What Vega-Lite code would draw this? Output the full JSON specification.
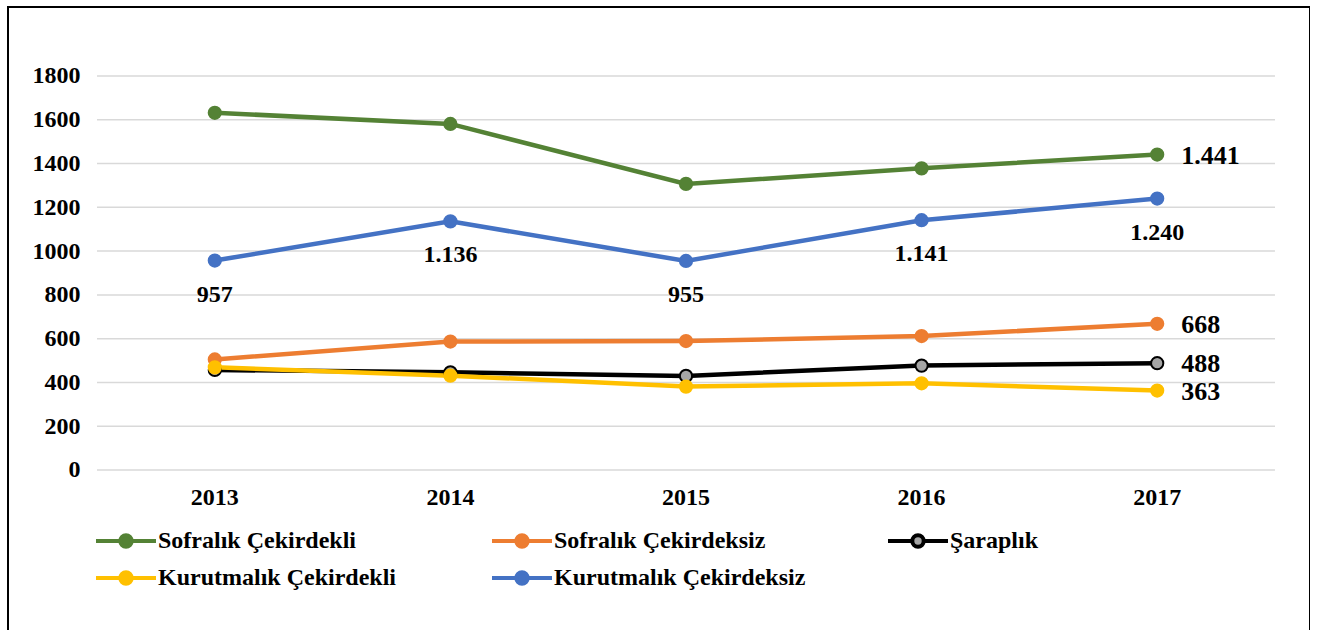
{
  "$schema": "https://vega.github.io/schema/vega-lite/v6.json",
  "autosize": "none",
  "padding": {"left": 8, "top": 7, "right": 0, "bottom": 0},
  "width": 1302,
  "height": 628,
  "config": {
    "view": {"stroke": "#000000", "strokeWidth": 2},
    "font": "Liberation Serif",
    "locale": {"number": {"decimal": ",", "thousands": ".", "grouping": [3], "currency": ["", "₺"]}}
  },
  "datasets": {
    "grid": [{"g": 0}, {"g": 200}, {"g": 400}, {"g": 600}, {"g": 800}, {"g": 1000}, {"g": 1200}, {"g": 1400}, {"g": 1600}, {"g": 1800}],
    "series": [
      {"series": "Sofralık Çekirdekli", "year": "2013", "v": 1632},
      {"series": "Sofralık Çekirdekli", "year": "2014", "v": 1581},
      {"series": "Sofralık Çekirdekli", "year": "2015", "v": 1307},
      {"series": "Sofralık Çekirdekli", "year": "2016", "v": 1378},
      {"series": "Sofralık Çekirdekli", "year": "2017", "v": 1441},
      {"series": "Sofralık Çekirdeksiz", "year": "2013", "v": 505},
      {"series": "Sofralık Çekirdeksiz", "year": "2014", "v": 587},
      {"series": "Sofralık Çekirdeksiz", "year": "2015", "v": 589},
      {"series": "Sofralık Çekirdeksiz", "year": "2016", "v": 612},
      {"series": "Sofralık Çekirdeksiz", "year": "2017", "v": 668},
      {"series": "Şaraplık", "year": "2013", "v": 457},
      {"series": "Şaraplık", "year": "2014", "v": 446},
      {"series": "Şaraplık", "year": "2015", "v": 430},
      {"series": "Şaraplık", "year": "2016", "v": 477},
      {"series": "Şaraplık", "year": "2017", "v": 488},
      {"series": "Kurutmalık Çekirdekli", "year": "2013", "v": 469},
      {"series": "Kurutmalık Çekirdekli", "year": "2014", "v": 431},
      {"series": "Kurutmalık Çekirdekli", "year": "2015", "v": 381},
      {"series": "Kurutmalık Çekirdekli", "year": "2016", "v": 396},
      {"series": "Kurutmalık Çekirdekli", "year": "2017", "v": 363},
      {"series": "Kurutmalık Çekirdeksiz", "year": "2013", "v": 957},
      {"series": "Kurutmalık Çekirdeksiz", "year": "2014", "v": 1136},
      {"series": "Kurutmalık Çekirdeksiz", "year": "2015", "v": 955},
      {"series": "Kurutmalık Çekirdeksiz", "year": "2016", "v": 1141},
      {"series": "Kurutmalık Çekirdeksiz", "year": "2017", "v": 1240}
    ]
  },
  "encoding": {
    "x": {
      "field": "year", "type": "nominal",
      "scale": {"type": "band", "domain": ["2013", "2014", "2015", "2016", "2017"], "paddingInner": 0, "paddingOuter": 0.2632, "align": 0.7177},
      "axis": {"title": null, "orient": "bottom", "offset": -165, "domain": false, "ticks": false, "labelPadding": 15, "labelFont": "Liberation Serif", "labelFontWeight": "bold", "labelFontSize": 24, "labelColor": "#000000", "labelAngle": 0}
    },
    "y": {
      "field": "v", "type": "quantitative",
      "scale": {"domain": [-753.8, 2115.2], "nice": false, "zero": false},
      "axis": {"title": null, "values": [0, 200, 400, 600, 800, 1000, 1200, 1400, 1600, 1800], "format": "d", "offset": -89, "grid": false, "domain": false, "ticks": false, "labelPadding": 17, "labelFont": "Liberation Serif", "labelFontWeight": "bold", "labelFontSize": 24, "labelColor": "#000000"}
    }
  },
  "layer": [
    {
      "data": {"name": "grid"},
      "mark": {"type": "rule", "color": "#d9d9d9", "strokeWidth": 1.5},
      "encoding": {
        "y": {"field": "g", "type": "quantitative"},
        "x": {"datum": "2013", "bandPosition": 0},
        "x2": {"datum": "2017", "bandPosition": 1}
      }
    },
    {
      "data": {"name": "series"},
      "mark": {"type": "line", "strokeWidth": 4.5},
      "encoding": {
        "stroke": {
          "field": "series", "type": "nominal",
          "scale": {"domain": ["Sofralık Çekirdekli", "Sofralık Çekirdeksiz", "Şaraplık", "Kurutmalık Çekirdekli", "Kurutmalık Çekirdeksiz"], "range": ["#548235", "#ED7D31", "#000000", "#FFC000", "#4472C4"]},
          "legend": {
            "title": null, "orient": "none", "legendX": 86, "legendY": 521, "direction": "horizontal", "columns": 3, "gridAlign": "all", "columnPadding": 80, "rowPadding": 11, "clipHeight": 26,
            "symbolType": "M-1,0L-0.19,0M0.19,0L1,0M-0.19,0A0.19,0.19,0,1,0,0.19,0A0.19,0.19,0,1,0,-0.19,0Z",
            "symbolSize": 3600, "symbolStrokeWidth": 4, "labelFont": "Liberation Serif", "labelFontWeight": "bold", "labelFontSize": 24, "labelColor": "#000000", "labelOffset": 0, "labelLimit": 400
          }
        },
        "detail": {"field": "series"}
      }
    },
    {
      "data": {"name": "series"},
      "mark": {"type": "point", "filled": true, "size": 150, "strokeWidth": 2, "opacity": 1},
      "encoding": {
        "fill": {
          "field": "series", "type": "nominal",
          "scale": {"domain": ["Sofralık Çekirdekli", "Sofralık Çekirdeksiz", "Şaraplık", "Kurutmalık Çekirdekli", "Kurutmalık Çekirdeksiz"], "range": ["#548235", "#ED7D31", "#A5A5A5", "#FFC000", "#4472C4"]},
          "legend": {
            "title": null, "orient": "none", "legendX": 86, "legendY": 521, "direction": "horizontal", "columns": 3, "gridAlign": "all", "columnPadding": 80, "rowPadding": 11, "clipHeight": 26,
            "symbolType": "M-1,0L-0.19,0M0.19,0L1,0M-0.19,0A0.19,0.19,0,1,0,0.19,0A0.19,0.19,0,1,0,-0.19,0Z",
            "symbolSize": 3600, "symbolStrokeWidth": 4, "labelFont": "Liberation Serif", "labelFontWeight": "bold", "labelFontSize": 24, "labelColor": "#000000", "labelOffset": 0, "labelLimit": 400
          }
        },
        "stroke": {"field": "series", "type": "nominal"}
      }
    },
    {
      "data": {"name": "series"},
      "transform": [{"filter": "datum.series === 'Kurutmalık Çekirdeksiz'"}],
      "mark": {"type": "text", "font": "Liberation Serif", "fontWeight": "bold", "fontSize": 24, "color": "#000000", "dy": 34, "baseline": "middle", "align": "center"},
      "encoding": {"text": {"field": "v", "type": "quantitative", "format": ",d"}}
    },
    {
      "data": {"name": "series"},
      "transform": [{"filter": "datum.year === '2017' && datum.series !== 'Kurutmalık Çekirdeksiz'"}],
      "mark": {"type": "text", "font": "Liberation Serif", "fontWeight": "bold", "fontSize": 26, "color": "#000000", "dx": 24, "dy": 1, "baseline": "middle", "align": "left"},
      "encoding": {"text": {"field": "v", "type": "quantitative", "format": ",d"}}
    }
  ]
}
